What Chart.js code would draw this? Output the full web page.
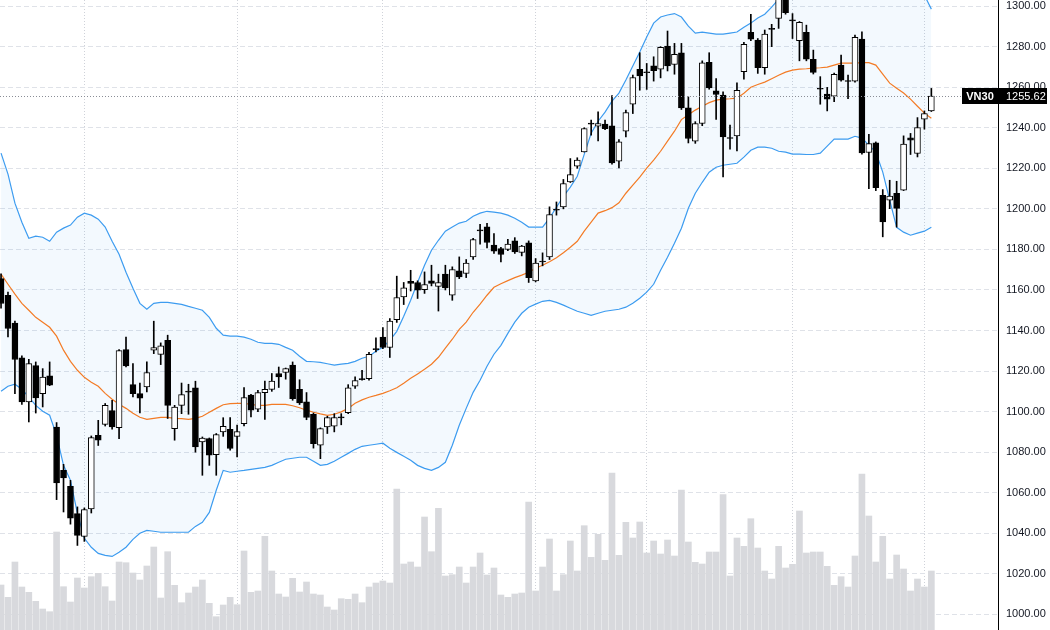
<!DOCTYPE html>
<html>
<head>
<meta charset="utf-8">
<script src="https://cdn.jsdelivr.net/npm/chart.js@4.4.1/dist/chart.umd.min.js"></script>
<style>
  html, body { margin: 0; padding: 0; background: #ffffff; }
  #wrap { width: 1050px; height: 630px; }
</style>
</head>
<body>
<div id="wrap"><canvas id="c" width="1050" height="630"></canvas></div>
<script>
// ---------------- DATA ----------------
const symbol = 'VN30';

const opens = [
  1165.6,1157.4,1143.7,1126.5,1104.8,1122.7,1108.9,1117.6,1092.4,1071,
  1063.2,1049.7,1038.5,1052,1088.3,1093.7,1100.5,1092.1,1130.6,1113.3,
  1108.9,1112.2,1130.3,1128.2,1135.2,1091.6,1103.1,1109.6,1111.7,1085,
  1086.7,1078.8,1090,1091.3,1087.8,1094.1,1108.1,1101.2,1109.4,1111,
  1118.8,1119.3,1122.9,1111,1104.8,1098.7,1083.4,1092.4,1092.8,1096.9,
  1099.5,1112.5,1116.3,1116.3,1130.6,1136.8,1131.6,1145.4,1156.6,1164.3,
  1163.7,1160.2,1164.5,1161.8,1167.8,1157.4,1169.4,1168.1,1176.3,1189.1,
  1191.1,1182.1,1180.4,1180,1184.2,1178.5,1183.2,1164.5,1173.8,1176.3,
  1199.3,1201,1213.3,1221,1228.1,1241.9,1240.8,1241.8,1240.9,1223.5,
  1238.3,1251.6,1268.8,1267.1,1270.5,1268.9,1280.3,1271.2,1277,1249.8,
  1233.4,1242.1,1272.2,1258.2,1256.1,1235.2,1236,1267.6,1287,1283.2,
  1269.6,1288.5,1293.9,1304,1292.8,1282.9,1287,1273.8,1259,1256.6,
  1255.6,1270.9,1262.8,1263,1283.7,1227.8,1232.5,1206.7,1204.3,1207.6,
  1209.2,1235,1227.3,1244.2,1248.3
];
const highs = [
  1168,1159,1144.6,1127.5,1125.8,1124.5,1121.2,1124.5,1094.6,1074,
  1066.1,1053,1052.5,1088,1095.7,1104,1105.6,1130.6,1136.8,1123.7,
  1114.1,1124.5,1144.6,1133.9,1137.7,1103.1,1114.1,1113.5,1115,1087.5,
  1087,1089.2,1097,1097,1093.3,1111.9,1108.5,1110.5,1115,1118.8,
  1122,1121.5,1124.5,1115.7,1109.4,1099.3,1092,1097.7,1099,1099,
  1113.3,1117.1,1120.4,1129.3,1136.4,1141.4,1145.9,1166.8,1163.7,1169.7,
  1164.5,1168.9,1172.2,1167.8,1172.2,1171.4,1176.3,1175,1185.5,1192.4,
  1192.8,1187.8,1181,1185,1185.8,1182,1184.2,1175.5,1178.3,1201,
  1203.4,1214.5,1224.8,1225.2,1240,1243.8,1247.8,1243.8,1255.9,1234.2,
  1248.7,1266,1277,1271.7,1275,1280,1287.7,1281.6,1281.6,1255.2,
  1243,1273,1277,1264.3,1257.7,1241.3,1262.2,1282.1,1295.9,1284,
  1288.2,1291,1307,1306,1296.3,1292.4,1290.6,1278.3,1265.2,1259.9,
  1267,1275.8,1266,1285.7,1287.3,1236.7,1233,1209.5,1214.1,1213.6,
  1236,1237.2,1245,1248.3,1259.4
];
const lows = [
  1151,1136.8,1108.9,1103.5,1094.9,1099.3,1102.3,1112.8,1056.6,1050.5,
  1044.5,1034,1036,1050,1083.3,1092.9,1091.3,1086.7,1122,1107.2,
  1099.3,1109.7,1128.6,1123.2,1096.6,1085.9,1099,1098.7,1080,1068.6,
  1073.5,1068.6,1087.8,1081,1077.6,1093,1097.4,1100,1096.2,1110,
  1111.9,1116,1105.6,1103.5,1096,1082,1076.8,1089.2,1090,1093.5,
  1099,1111.4,1115.5,1115.5,1129.4,1131,1126.7,1144,1152.8,1159.5,
  1155.8,1158.3,1162,1149.6,1160,1154.9,1165.6,1166.1,1175,1182.6,
  1180.7,1178,1173.8,1179.4,1178,1176.8,1163.7,1164,1171.9,1175,
  1196.9,1200,1213,1220,1228,1236.3,1233.5,1239,1222,1220.2,
  1235.5,1247,1258.5,1258.9,1263,1264.6,1268,1266.4,1249,1232.5,
  1232.3,1241,1259,1244.1,1215.8,1229.4,1228.6,1263.9,1283,1266.8,
  1266.4,1280,1289,1296,1284,1273,1273,1266.5,1251.6,1248.3,
  1252.8,1263,1254.4,1262.5,1227,1210,1209,1186.2,1200.1,1191,
  1209,1226.8,1225.6,1239.3,1248
];
const closes = [
  1153.3,1141,1125.7,1104.8,1123.7,1106.7,1117,1113.1,1064.8,1067.3,
  1047.5,1039,1051.7,1087.2,1085.9,1103.1,1092.4,1130.1,1122.5,1108.9,
  1106.6,1119.3,1131.6,1132.4,1103.1,1102.3,1108.4,1109.7,1082.6,1087,
  1078.5,1088.7,1092.8,1081.8,1090.1,1106.9,1100.7,1109.4,1111,1115,
  1117.1,1121.2,1106.4,1104.3,1097.1,1084.2,1091.6,1097.1,1097.1,1097.3,
  1111.7,1115.3,1115.8,1128.3,1131.1,1131.6,1144.6,1156.3,1161,1163.2,
  1159.9,1162.7,1163.2,1163.7,1161,1170.1,1166.4,1173.3,1184.9,1189.4,
  1183.4,1179.1,1177.5,1182.6,1178.8,1181.6,1166,1173.2,1174.2,1197.2,
  1199.4,1212.5,1216.9,1224,1239.6,1241.8,1242.1,1239.6,1222.7,1233,
  1247.5,1264.8,1265.5,1267.1,1268.1,1279.6,1270.5,1276.2,1249.8,1234.7,
  1242.1,1272,1259.7,1256.4,1235.5,1234.7,1258.5,1281.1,1283.7,1269.6,
  1286.2,1288.6,1305,1296.7,1292.7,1292,1273.8,1267.3,1259.1,1254.1,
  1266.4,1263.5,1262.9,1284.6,1227.6,1232.2,1210.5,1193.6,1206.3,1200.2,
  1231.9,1233.9,1240.1,1247,1255.62
];
const volumes = [
  45,32.7,68,43,37.7,28.7,21,18.3,98,43.3,
  28,52,42,53.3,56.7,43.3,29,68,67.3,57,
  50,64,83,32,78.3,44.7,27.3,37,43,50,
  26.7,13.3,25,32.7,25.3,79,37.7,39,93.7,59,
  36,33,51.7,38,48,36,35,23,20,31.3,
  30.7,36,27.3,43,47,49,47,141,66,68,
  63,113,78.3,121.7,54,55.3,63,47,63,77,
  55,62,35,32.7,36,37,128,39,63,91,
  39,55.3,89,59,104.3,72.7,95.7,69.7,157,74.7,
  107.7,92,108,77,89,76,90,74,140,88,
  67.7,66,78,78,135.3,54,92,83.7,111.3,82,
  59,51,83.7,62,65.7,119,77,78,78,63.7,
  44.7,53.3,43,74,156,114,68,93.7,51,75,
  61,39,51,43,59
];
const bbUpper = [
  1227.5,1217.1,1202.8,1193.4,1185.5,1186.5,1186,1184,1188.5,1190.5,
  1192,1195.9,1197.9,1196.9,1194.9,1191,1184,1177.6,1168.7,1160.8,
  1153.4,1150.5,1153.4,1153.9,1153.9,1153.4,1152.9,1151.9,1151,1150,
  1146.5,1141.1,1137.7,1137.2,1137.2,1136.7,1135.7,1134.2,1133.7,1133.7,
  1133.2,1131.7,1130.3,1127.3,1124.8,1124.6,1124.3,1123.6,1122.9,1123.4,
  1123.8,1124.8,1126.3,1127.3,1129.8,1131.7,1135.2,1139.6,1147,1154.9,
  1163.8,1172.2,1179.6,1184.5,1189,1191,1193,1193.9,1196.4,1197.9,
  1198.8,1198.4,1197.9,1196.9,1195.4,1193.4,1191,1191,1191,1195.4,
  1200.8,1206.2,1210.7,1216.1,1226.9,1237.3,1243.2,1247.7,1253.1,1257.1,
  1263.5,1270.4,1277.3,1284.7,1291.6,1294.6,1295.6,1296.3,1294.6,1290.1,
  1286.7,1287.2,1286.7,1286.2,1286.2,1286.7,1287.2,1289.6,1291.6,1294.1,
  1296,1299.5,1303.4,1306.8,1309.8,1310.8,1311.4,1312,1311.7,1308.9,
  1307.4,1309.4,1309.4,1308,1309.3,1312.8,1313.8,1314.7,1319.7,1328.1,
  1325.7,1321.2,1313.2,1305.4,1298.5
];
const bbBasis = [
  1167.8,1162.8,1157.9,1153.4,1150,1146.5,1144.1,1141.6,1137.2,1130.3,
  1124.8,1120.4,1116.9,1114.5,1112.5,1109,1106.1,1103.6,1101.6,1099.2,
  1097.2,1096.2,1096.7,1097.2,1097.2,1096.7,1096.5,1096.2,1096.7,1097.7,
  1099.7,1101.6,1103.4,1103.9,1104.1,1104.1,1103.6,1103.1,1103.1,1103.6,
  1103.6,1103.6,1102.9,1101.9,1100.7,1099.7,1098.9,1098.2,1098.7,1099.9,
  1101.6,1104.1,1105.8,1107.1,1108,1109,1110.3,1111.8,1114,1116.4,
  1118.6,1120.9,1123.4,1126.8,1131.3,1135.7,1140.6,1144.1,1149,1153,
  1157.4,1161.3,1163.1,1164.6,1166.1,1167.3,1168.7,1170.7,1172.2,1173.9,
  1175.9,1178.4,1181.1,1184,1189,1193.4,1197.9,1199.1,1200.6,1203,
  1207.7,1211.7,1215.6,1220.1,1224,1228.4,1233.4,1238.3,1244,1246.4,
  1248.7,1250.6,1252.4,1253.6,1254.1,1254.3,1254.6,1257,1260,1261.3,
  1262.5,1264.2,1265.9,1267.4,1268.4,1268.9,1269.1,1269.4,1269.6,1269.9,
  1270.9,1271.9,1271.9,1271.9,1272.1,1272.1,1270.9,1266.4,1262,1259.5,
  1257.1,1254.1,1250.6,1247.2,1244.7
];
const bbLower = [
  1110,1112.5,1113.5,1111,1107.1,1103.1,1100.2,1098.2,1088.3,1073.5,
  1066.1,1049.8,1037.5,1033.1,1030.1,1029.1,1028.6,1030.6,1033.1,1037,
  1040,1041.4,1041,1040.5,1040.5,1040.5,1040.5,1040.5,1043.4,1045.4,
  1050.3,1061.2,1071,1070.1,1070.6,1071,1071.5,1072,1072.5,1073.5,
  1075,1076.5,1077,1077.5,1077.5,1075.5,1073.5,1074,1075.5,1077.5,
  1079.4,1081.4,1082.9,1083.4,1083.9,1084.4,1081.9,1079.9,1078,1076,
  1073.5,1072,1071,1072.5,1075,1083.4,1093.3,1101.6,1109.5,1115.5,
  1122.4,1128.3,1132.7,1138.6,1144.1,1148.5,1151.5,1153,1154.4,1154.9,
  1153.9,1152.5,1151,1149.5,1148.5,1147.5,1148.5,1149.5,1150,1150.5,
  1151.5,1153.4,1155.9,1158.9,1162.8,1169.7,1176.1,1183,1190.4,1200.3,
  1207.7,1213.1,1218.1,1220.5,1221.5,1222,1222.5,1225.5,1228.9,1230.4,
  1230.4,1229.9,1228.4,1228,1227,1227,1226.8,1226.8,1227.5,1230.9,
  1234.4,1234.4,1234.4,1235.8,1234.9,1231.4,1228,1218.1,1204.3,1190.9,
  1188.5,1187,1188,1189,1190.9
];
const priceTicks = [1000,1020,1040,1060,1080,1100,1120,1140,1160,1180,1200,1220,1240,1260,1280,1300];
const monthStartIndex = [12,34,55,77,93,114,133];

// ---------------- CHART ----------------
const FONT = "'Liberation Sans', Arial, sans-serif";
const n = closes.length;
const lastClose = closes[n - 1];

const bodyData = opens.map((o, i) => ({ x: i, y: [o, closes[i]] }));
const wickData = lows.map((l, i) => ({ x: i, y: [l, highs[i]] }));
const volData = volumes.map((v, i) => ({ x: i, y: v }));
const upData = bbUpper.map((v, i) => ({ x: i, y: v }));
const midData = bbBasis.map((v, i) => ({ x: i, y: v }));
const loData = bbLower.map((v, i) => ({ x: i, y: v }));

const isHollow = (i) => closes[i] - opens[i] > 0.5;

const priceLabelPlugin = {
  id: 'priceLabel',
  afterDatasetsDraw(chart) {
    const { ctx, chartArea } = chart;
    const y = Math.round(chart.scales.y.getPixelForValue(lastClose)) + 0.5;
    ctx.save();
    ctx.strokeStyle = '#8a8d96';
    ctx.lineWidth = 1;
    ctx.setLineDash([1, 2]);
    ctx.beginPath();
    ctx.moveTo(chartArea.left, y);
    ctx.lineTo(962, y);
    ctx.stroke();
    ctx.restore();
  },
  afterDraw(chart) {
    const { ctx } = chart;
    const ys = chart.scales.y;
    const y = ys.getPixelForValue(lastClose);
    ctx.save();
    // right price-axis line
    const ax = Math.round(ys.left) + 0.5;
    ctx.strokeStyle = '#000000';
    ctx.lineWidth = 1;
    ctx.beginPath();
    ctx.moveTo(ax, ys.top);
    ctx.lineTo(ax, ys.bottom);
    ctx.stroke();
    // last-price label
    ctx.fillStyle = '#000000';
    ctx.fillRect(962, Math.round(y) - 8, 85, 16);
    ctx.fillStyle = '#ffffff';
    ctx.textBaseline = 'middle';
    ctx.textAlign = 'center';
    ctx.font = 'bold 11px ' + FONT;
    ctx.fillText(symbol, 980, Math.round(y) + 0.5);
    ctx.textAlign = 'left';
    ctx.font = '11px ' + FONT;
    ctx.fillText(lastClose.toFixed(2), 1006, Math.round(y) + 0.5);
    ctx.restore();
  }
};

new Chart(document.getElementById('c'), {
  data: {
    datasets: [
      {
        type: 'bar', label: 'body', data: bodyData, yAxisID: 'y', order: 1,
        grouped: false, barThickness: 6, minBarLength: 1,
        backgroundColor: opens.map((o, i) => isHollow(i) ? '#ffffff' : '#000000'),
        borderColor: '#000000', borderWidth: 1, borderSkipped: false
      },
      {
        type: 'bar', label: 'wick', data: wickData, yAxisID: 'y', order: 2,
        grouped: false, barThickness: 1, backgroundColor: '#000000', borderWidth: 0
      },
      {
        type: 'line', label: 'Upper', data: upData, yAxisID: 'y', order: 3,
        borderColor: '#3d9cf0', borderWidth: 1.2, pointRadius: 0, tension: 0,
        fill: { target: 4, above: 'rgba(33,150,243,0.055)', below: 'rgba(33,150,243,0.055)' }
      },
      {
        type: 'line', label: 'Basis', data: midData, yAxisID: 'y', order: 3,
        borderColor: '#ff7a1a', borderWidth: 1.2, pointRadius: 0, tension: 0, fill: false
      },
      {
        type: 'line', label: 'Lower', data: loData, yAxisID: 'y', order: 3,
        borderColor: '#3d9cf0', borderWidth: 1.2, pointRadius: 0, tension: 0, fill: false
      },
      {
        type: 'bar', label: 'Volume', data: volData, yAxisID: 'vol', order: 6,
        grouped: false, barThickness: 6, backgroundColor: '#d8d9dd', borderWidth: 0
      }
    ]
  },
  options: {
    responsive: false,
    animation: false,
    devicePixelRatio: 1,
    layout: { padding: 0 },
    plugins: { legend: { display: false }, tooltip: { enabled: false } },
    scales: {
      x: {
        type: 'linear', min: -0.15, max: 143.6, position: 'bottom', offset: false,
        afterBuildTicks: (s) => { s.ticks = monthStartIndex.map(v => ({ value: v })); },
        afterFit: (s) => { s.height = 0; s.paddingLeft = 0; s.paddingRight = 0; },
        ticks: { display: false },
        grid: { color: '#cfd2d9', lineWidth: 1, drawTicks: false, offset: false },
        border: { display: false, dash: [1, 2] }
      },
      y: {
        type: 'linear', position: 'right', min: 992.3, max: 1303.0,
        afterBuildTicks: (s) => { s.ticks = priceTicks.map(v => ({ value: v })); },
        afterFit: (s) => { s.width = 52; s.paddingTop = 0; s.paddingBottom = 0; },
        ticks: {
          callback: (v) => Number(v).toFixed(2),
          font: { family: FONT, size: 11 }, color: '#131722', padding: 8, autoSkip: false
        },
        grid: { color: '#dfe2e8', lineWidth: 1, drawTicks: false },
        border: { display: true, color: '#000000', width: 1, dash: [5, 3] }
      },
      vol: {
        type: 'linear', display: false, min: 0, max: 630
      }
    }
  },
  plugins: [priceLabelPlugin]
});
</script>
</body>
</html>
